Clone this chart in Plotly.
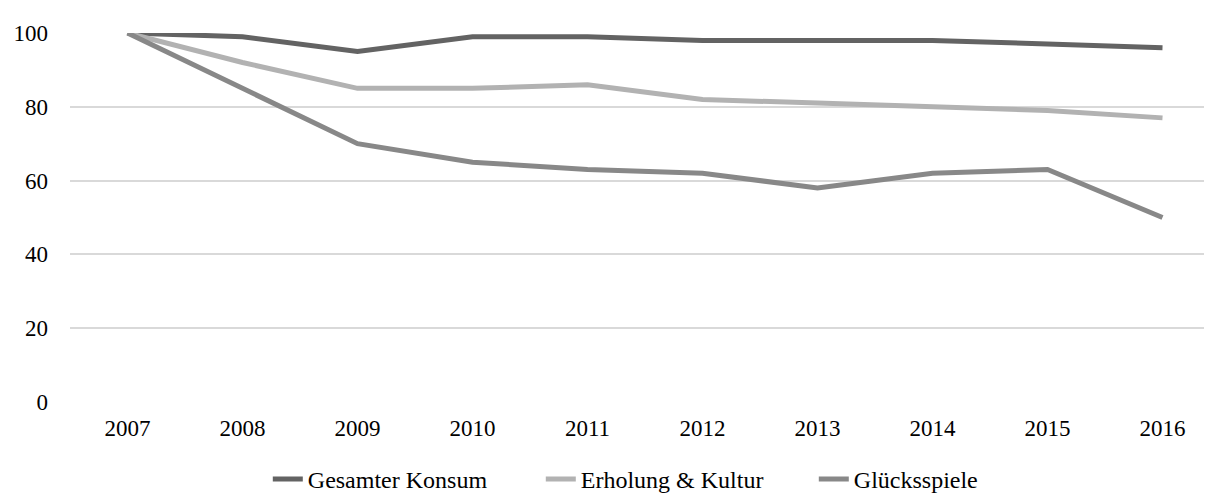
import plotly.graph_objects as go

years = ["2007", "2008", "2009", "2010", "2011", "2012", "2013", "2014", "2015", "2016"]
gesamter_konsum = [100, 99, 95, 99, 99, 98, 98, 98, 97, 96]
erholung_kultur = [100, 92, 85, 85, 86, 82, 81, 80, 79, 77]
gluecksspiele = [100, 85, 70, 65, 63, 62, 58, 62, 63, 50]

series = [
    ("Gesamter Konsum", gesamter_konsum, "#636363"),
    ("Erholung & Kultur", erholung_kultur, "#b2b2b2"),
    ("Glücksspiele", gluecksspiele, "#888888"),
]

fig = go.Figure()
for name, vals, color in series:
    fig.add_trace(go.Scatter(
        x=years, y=vals, name=name, mode="lines",
        line=dict(color=color, width=5, shape="linear"),
        cliponaxis=False,
    ))

family = "Liberation Serif, Times New Roman, serif"
tick_font = dict(family=family, size=23, color="#000000")
legend_font = dict(family=family, size=24, color="#000000")

fig.update_layout(
    width=1212, height=494,
    margin=dict(l=62, r=0, t=25, b=91),
    paper_bgcolor="white", plot_bgcolor="white",
    font=tick_font,
    showlegend=True,
    legend=dict(orientation="h", x=0.172, xanchor="left", y=-0.21, yanchor="middle",
                font=legend_font, itemwidth=30, entrywidth=228, entrywidthmode="pixels",
                traceorder="normal"),
    xaxis=dict(type="category", range=[-0.5, 9.5], showgrid=False, showline=False,
               zeroline=False, ticks="", tickfont=tick_font, ticklabelstandoff=10),
    yaxis=dict(range=[0, 100], tickvals=[0, 20, 40, 60, 80, 100], showgrid=True,
               gridcolor="#d9d9d9", gridwidth=1.5, zeroline=False, showline=False,
               ticks="", tickfont=tick_font, ticklabelstandoff=21),
)

fig.write_html("out.html")
